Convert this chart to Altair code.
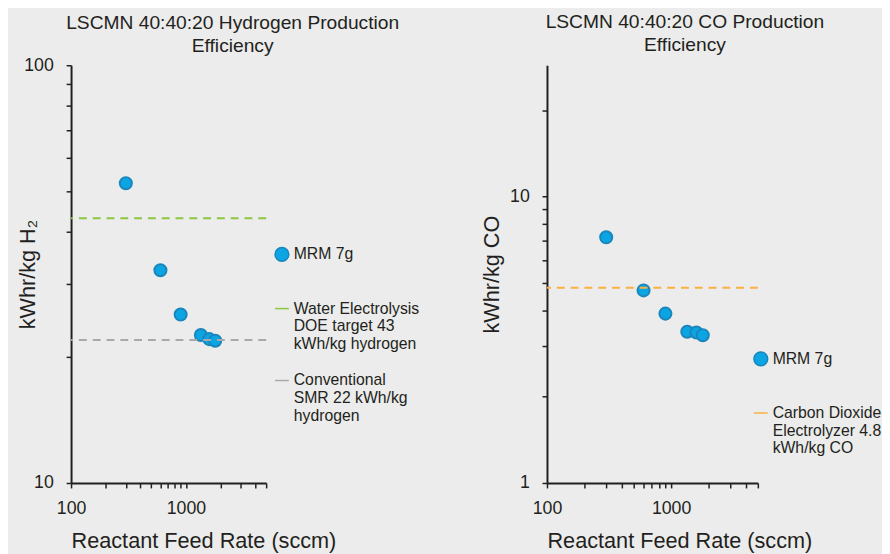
import altair as alt
import pandas as pd

# ---------------- data ----------------
feed_rate = [300, 600, 900, 1350, 1600, 1800]
h2_energy = [52.2, 32.3, 25.3, 22.6, 22.1, 21.9]
co_energy = [7.2, 4.7, 3.9, 3.37, 3.35, 3.28]

h2_series = ["MRM 7g|",
             "Water Electrolysis|DOE target 43|kWh/kg hydrogen",
             "Conventional|SMR 22 kWh/kg|hydrogen"]
h2_refs = [43, 22]
co_series = ["MRM 7g|",
             "Carbon Dioxide|Electrolyzer 4.8|kWh/kg CO"]
co_refs = [4.8]

x_ticks = [100, 200, 300, 400, 500, 600, 700, 800, 900, 1000, 2000, 3000, 4000, 5000]
h2_ticks = [10, 20, 30, 40, 50, 60, 70, 80, 90, 100]
co_ticks = [1, 2, 3, 4, 5, 6, 7, 8, 9, 10, 20]

# ---------------- style ----------------
FONT = "Liberation Sans"
INK = "#231F20"
BG = "#EBECEB"
PT_FILL = "#0AA5E2"
PT_EDGE = "#1A86BC"
GREEN = "#8DC63F"
GRAY = "#A7A9AC"
ORANGE = "#FBB040"


def panel(title, title_dx, title_off, ytitle, ytitle_x, yvals, ydomain, yticks, ylabels,
          series, refs, ref_colors, width, legend_offset, legend_drop):
    pts = pd.DataFrame({"rate": feed_rate, "energy": yvals, "series": series[0]})
    ref_df = pd.DataFrame({"energy": refs, "series": series[1:]})

    fills = [PT_FILL] + ref_colors
    strokes = [PT_EDGE] + ref_colors
    shapes = ["circle"] + ["stroke"] * len(refs)

    leg = alt.Legend(
        title=" ", titleFontSize=2, titlePadding=legend_drop,
        orient="right", offset=legend_offset,
        labelExpr="split(datum.label, '|')",
        labelFont=FONT, labelFontSize=16,
        labelColor=INK, labelLimit=400, labelOffset=4, rowPadding=21,
        padding=0, symbolSize=196, symbolStrokeWidth=1.5,
    )

    x = alt.X("rate:Q", title="Reactant Feed Rate (sccm)",
              scale=alt.Scale(type="log", domain=[100, 5000], nice=False),
              axis=alt.Axis(values=x_ticks, format="d",
                            labelExpr="datum.value == 100 || datum.value == 1000 ? datum.label : ''",
                            titleAnchor="start", titlePadding=13, labelPadding=12))
    y = alt.Y("energy:Q", title=ytitle,
              scale=alt.Scale(type="log", domain=ydomain, nice=False),
              axis=alt.Axis(values=yticks, format="d",
                            labelExpr="datum.value == %d || datum.value == %d ? datum.label : ''" % tuple(ylabels),
                            titleX=ytitle_x, titleBaseline="bottom", labelPadding=13))

    points = alt.Chart(pts).mark_point(filled=True, opacity=1, size=150).encode(
        x=x, y=y,
        fill=alt.Fill("series:N", scale=alt.Scale(domain=series, range=fills), legend=leg),
        stroke=alt.Stroke("series:N", scale=alt.Scale(domain=series, range=strokes), legend=leg),
        shape=alt.Shape("series:N", scale=alt.Scale(domain=series, range=shapes), legend=leg),
    )
    rules = alt.Chart(ref_df).mark_rule(strokeDash=[8, 6], strokeWidth=2).encode(
        y=alt.Y("energy:Q", scale=alt.Scale(type="log", domain=ydomain, nice=False)),
        stroke=alt.Stroke("series:N", scale=alt.Scale(domain=series, range=strokes), legend=None),
    )
    return alt.layer(points, rules).properties(
        width=width, height=424,
        title=alt.TitleParams(text=title, font=FONT, fontSize=19.5, fontWeight="normal",
                              color=INK, lineHeight=23, anchor="middle", frame="group",
                              dx=title_dx, offset=title_off),
    )


left = panel(["LSCMN 40:40:20 Hydrogen Production", "Efficiency"], 65, 0,
             "kWhr/kg H\u2082", -32.5, h2_energy, [10, 100], h2_ticks, [10, 100],
             h2_series, h2_refs, [GREEN, GRAY], 198, 8, 182)
right = panel(["LSCMN 40:40:20 CO Production", "Efficiency"], 33, 10,
              "kWhr/kg CO", -44, co_energy, [1, 28.7], co_ticks, [1, 10],
              co_series, co_refs, [ORANGE], 214, -5, 288)

chart = alt.hconcat(left, right, spacing=62).resolve_scale(
    fill="independent", stroke="independent", shape="independent"
).resolve_legend(fill="independent", stroke="independent", shape="independent").configure(
    background=BG, padding={"left": 8, "top": 0, "right": 0, "bottom": 0},
).configure_view(stroke=None).configure_axis(
    grid=False, domainColor=INK, domainWidth=2, tickColor=INK, tickWidth=1.5,
    tickSize=5, labelFont=FONT, labelFontSize=18, labelColor=INK,
    labelFlush=False, labelOverlap=False, titleFont=FONT, titleFontSize=22,
    titleFontWeight="normal", titleColor=INK,
)

chart.save("out.html", embed_options={"renderer": "svg", "actions": False})
